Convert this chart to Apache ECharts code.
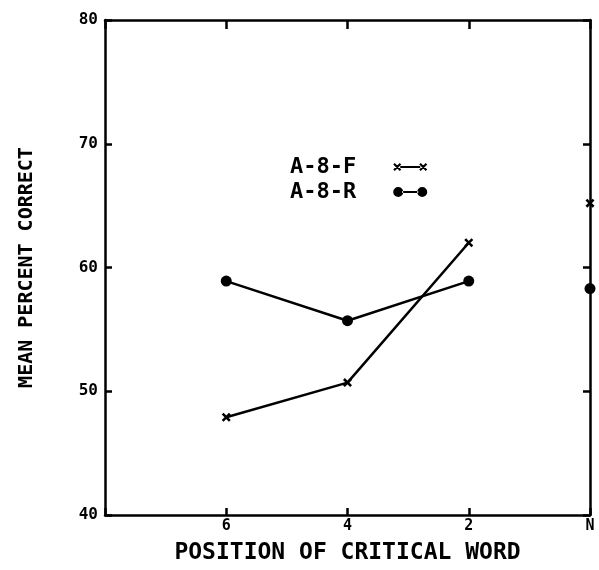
<!DOCTYPE html>
<html>
<head>
<meta charset="utf-8">
<script src="https://cdn.jsdelivr.net/npm/echarts@6/dist/echarts.min.js"></script>
<style>html,body{margin:0;padding:0;background:#fff}#c{width:599px;height:570px}</style>
</head>
<body>
<div id="c"></div>
<script>
// Data
var categories = ['', '6', '4', '2', 'N'];
var seriesNames = ['A-8-F', 'A-8-R'];
var a8f = [null, 47.9, 50.7, 62.0, null];
var a8r = [null, 58.9, 55.7, 58.9, null];
var a8fN = [null, null, null, null, 65.2];
var a8rN = [null, null, null, null, 58.3];
var yTicks = [40, 50, 60, 70, 80];

var MONO = '"DejaVu Sans Mono", monospace';
var xSym = 'path://M0,2 L2,0 L10,8 L8,10 Z M8,0 L10,2 L2,10 L0,8 Z';
var xLegend = 'path://M0,2.5 L1.5,1 L8,7.5 L6.5,9 Z M6.5,1 L8,2.5 L1.5,9 L0,7.5 Z M7,4 L27,4 L27,6 L7,6 Z M26,2.5 L27.5,1 L34,7.5 L32.5,9 Z M32.5,1 L34,2.5 L27.5,9 L26,7.5 Z';
var dotLegend = 'path://M0,5 A5,5 0 1,0 10,5 A5,5 0 1,0 0,5 Z M9,4 L25,4 L25,6 L9,6 Z M24,5 A5,5 0 1,0 34,5 A5,5 0 1,0 24,5 Z';

var chart = echarts.init(document.getElementById('c'), null, {renderer: 'canvas'});
var axisLine = {show: true, lineStyle: {color: '#000', width: 2.5}};
var tickStyle = {color: '#000', width: 2.5};
var option = {
  animation: false,
  backgroundColor: '#fff',
  grid: {left: 105, right: 9, top: 20, bottom: 49, containLabel: false},
  legend: {
    orient: 'vertical', left: 285, top: 151, align: 'right',
    itemWidth: 34, itemHeight: 10, itemGap: 3,
    itemStyle: {color: '#000', borderWidth: 0, opacity: 1},
    textStyle: {fontFamily: MONO, fontSize: 22, fontWeight: 'bold', color: '#000', padding: [0, 32, 0, 0], lineHeight: 22},
    data: [{name: seriesNames[0], icon: xLegend}, {name: seriesNames[1], icon: dotLegend}],
    selectedMode: false
  },
  xAxis: [{
    type: 'category', data: categories, boundaryGap: false, position: 'bottom',
    axisLine: axisLine,
    axisTick: {show: true, inside: true, length: 7, lineStyle: tickStyle},
    axisLabel: {color: '#000', fontFamily: MONO, fontWeight: 'bold', fontSize: 15, margin: 4},
    splitLine: {show: false},
    name: 'POSITION OF CRITICAL WORD', nameLocation: 'middle', nameGap: 27,
    nameTextStyle: {fontFamily: MONO, fontSize: 23, fontWeight: 'bold', color: '#000'}
  }, {
    type: 'category', data: categories, boundaryGap: false, position: 'top',
    axisLine: axisLine,
    axisTick: {show: true, inside: true, length: 9, lineStyle: tickStyle},
    axisLabel: {show: false}, splitLine: {show: false}
  }],
  yAxis: [{
    type: 'value', min: 40, max: 80, interval: 10, position: 'left',
    axisLine: axisLine,
    axisTick: {show: true, inside: true, length: 7, lineStyle: tickStyle},
    axisLabel: {color: '#000', fontFamily: MONO, fontWeight: 'bold', fontSize: 16, margin: 7,
      formatter: function (v) { return yTicks.indexOf(v) >= 0 ? String(v) : ''; }},
    splitLine: {show: false},
    name: 'MEAN PERCENT CORRECT', nameLocation: 'middle', nameGap: 68,
    nameTextStyle: {fontFamily: MONO, fontSize: 20, fontWeight: 'bold', color: '#000'}
  }, {
    type: 'value', min: 40, max: 80, interval: 10, position: 'right',
    axisLine: axisLine,
    axisTick: {show: true, inside: true, length: 7, lineStyle: tickStyle},
    axisLabel: {show: false}, splitLine: {show: false}
  }],
  series: [{
    name: seriesNames[0], type: 'line', data: a8f, symbol: xSym, symbolSize: 9, showSymbol: true,
    itemStyle: {color: '#000', borderWidth: 0}, lineStyle: {color: '#000', width: 2.5}, clip: false, z: 5
  }, {
    name: seriesNames[1], type: 'line', data: a8r, symbol: 'circle', symbolSize: 11, showSymbol: true,
    itemStyle: {color: '#000', borderWidth: 0}, lineStyle: {color: '#000', width: 2.5}, clip: false, z: 5
  }, {
    name: seriesNames[0], type: 'scatter', data: a8fN, symbol: xSym, symbolSize: 9,
    itemStyle: {color: '#000', opacity: 1}, clip: false, z: 6
  }, {
    name: seriesNames[1], type: 'scatter', data: a8rN, symbol: 'circle', symbolSize: 11,
    itemStyle: {color: '#000', opacity: 1}, clip: false, z: 6
  }]
};
chart.setOption(option);
</script>
</body>
</html>
